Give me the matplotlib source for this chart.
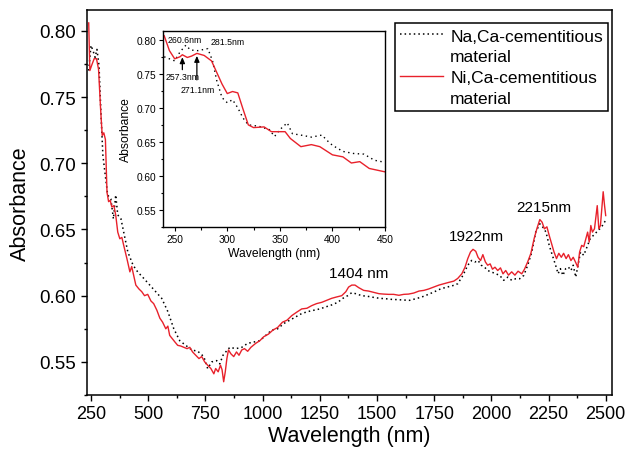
import matplotlib
matplotlib.use("Agg")
import matplotlib.pyplot as plt
from matplotlib.lines import Line2D
from matplotlib.ticker import MultipleLocator, FormatStrFormatter

plt.rcParams['font.family'] = ['Liberation Sans', 'DejaVu Sans']

# ---------------- main data ----------------
ni_wl = [240, 245, 253, 264, 274, 283, 292, 299, 306, 313, 320, 327, 334, 341, 350, 358, 367, 376, 385, 393,
         407, 420, 428, 437, 446, 460, 472, 484, 498, 512, 524, 538, 551, 563, 577, 586, 594, 603, 617, 629,
         642, 656, 670, 682, 694, 708, 722, 734, 747, 760, 774, 787, 795, 806, 816, 823, 830, 837, 844, 851,
         862, 874, 886, 897, 909, 921, 935, 949, 970, 988, 1005, 1026, 1045, 1066, 1087, 1107, 1128, 1149, 1171, 1194,
         1215, 1236, 1259, 1281, 1302, 1323, 1346, 1364, 1376, 1390, 1404, 1421, 1442, 1463, 1486, 1509, 1530, 1551, 1573, 1596,
         1617, 1638, 1661, 1684, 1705, 1725, 1748, 1771, 1792, 1813, 1836, 1853, 1871, 1885, 1897, 1909, 1920, 1932, 1942, 1953,
         1963, 1974, 1984, 1995, 2005, 2016, 2028, 2040, 2051, 2063, 2075, 2089, 2103, 2117, 2133, 2145, 2159, 2173, 2187, 2199,
         2212, 2222, 2232, 2243, 2253, 2264, 2274, 2285, 2295, 2306, 2316, 2327, 2337, 2348, 2358, 2369, 2378, 2386, 2395, 2404,
         2413, 2421, 2428, 2435, 2442, 2451, 2456, 2463, 2470, 2477, 2484, 2489, 2495, 2500]
ni_abs = [0.806, 0.770, 0.774, 0.779, 0.779, 0.771, 0.741, 0.721, 0.723, 0.718, 0.678, 0.671, 0.672, 0.667, 0.668, 0.661, 0.648, 0.643, 0.644, 0.638,
          0.628, 0.618, 0.622, 0.615, 0.608, 0.605, 0.603, 0.600, 0.601, 0.596, 0.594, 0.589, 0.583, 0.580, 0.575, 0.577, 0.570, 0.568, 0.565, 0.5625,
          0.562, 0.561, 0.560, 0.561, 0.5575, 0.555, 0.5525, 0.554, 0.550, 0.5475, 0.545, 0.541, 0.545, 0.5425, 0.5475, 0.544, 0.535, 0.5425, 0.5525, 0.559,
          0.556, 0.554, 0.5575, 0.555, 0.559, 0.560, 0.558, 0.561, 0.564, 0.566, 0.569, 0.571, 0.574, 0.576, 0.580, 0.5815, 0.585, 0.5875, 0.590, 0.5905,
          0.5925, 0.594, 0.595, 0.5965, 0.598, 0.599, 0.600, 0.603, 0.6065, 0.608, 0.608, 0.606, 0.604, 0.6035, 0.6025, 0.6015, 0.6012, 0.601, 0.601, 0.6003,
          0.601, 0.6012, 0.602, 0.6035, 0.604, 0.605, 0.6065, 0.608, 0.609, 0.610, 0.611, 0.613, 0.6165, 0.6215, 0.628, 0.633, 0.635, 0.6335, 0.629, 0.6265,
          0.631, 0.6255, 0.623, 0.624, 0.620, 0.6215, 0.619, 0.621, 0.6165, 0.619, 0.6155, 0.618, 0.6155, 0.6185, 0.6165, 0.620, 0.6255, 0.632, 0.643, 0.6505,
          0.6575, 0.6555, 0.6505, 0.652, 0.6455, 0.639, 0.633, 0.628, 0.632, 0.629, 0.632, 0.628, 0.631, 0.6265, 0.629, 0.625, 0.6215, 0.633, 0.638, 0.637,
          0.643, 0.648, 0.6405, 0.653, 0.648, 0.6505, 0.658, 0.668, 0.6505, 0.653, 0.668, 0.6785, 0.668, 0.6605]

na_wl = [240, 250, 259, 268, 276, 285, 294, 302, 311, 323, 337, 348, 358, 367, 381, 393, 411, 434, 454, 481,
         507, 533, 559, 586, 612, 638, 664, 691, 717, 743, 760, 778, 799, 813, 827, 839, 857, 883, 909, 935,
         962, 988, 1014, 1040, 1066, 1093, 1119, 1145, 1171, 1198, 1224, 1250, 1276, 1302, 1329, 1351, 1372, 1390, 1407, 1434,
         1460, 1486, 1512, 1538, 1565, 1591, 1617, 1643, 1670, 1696, 1722, 1748, 1774, 1801, 1827, 1853, 1876, 1897, 1914, 1928,
         1942, 1956, 1970, 1984, 2002, 2019, 2037, 2054, 2072, 2089, 2107, 2124, 2142, 2159, 2177, 2194, 2212, 2225, 2239, 2253,
         2267, 2281, 2292, 2302, 2313, 2325, 2337, 2348, 2358, 2369, 2379, 2390, 2404, 2418, 2432, 2446, 2460, 2474, 2486, 2500]
na_abs = [0.770, 0.789, 0.785, 0.780, 0.786, 0.774, 0.736, 0.706, 0.693, 0.676, 0.673, 0.658, 0.676, 0.661, 0.658, 0.648, 0.633, 0.623, 0.618, 0.613,
          0.608, 0.603, 0.598, 0.588, 0.575, 0.566, 0.5625, 0.559, 0.558, 0.554, 0.545, 0.550, 0.551, 0.5485, 0.555, 0.5575, 0.561, 0.560, 0.561, 0.564,
          0.565, 0.566, 0.570, 0.574, 0.575, 0.579, 0.5815, 0.584, 0.5865, 0.588, 0.589, 0.590, 0.5915, 0.593, 0.595, 0.598, 0.600, 0.6023, 0.6015, 0.600,
          0.5995, 0.5987, 0.598, 0.5977, 0.5972, 0.597, 0.5967, 0.5965, 0.5977, 0.599, 0.6008, 0.6027, 0.6048, 0.6063, 0.6073, 0.609, 0.6153, 0.623, 0.6266, 0.6254,
          0.6266, 0.623, 0.6216, 0.619, 0.6178, 0.6166, 0.6153, 0.6116, 0.614, 0.6116, 0.6128, 0.6128, 0.6153, 0.623, 0.6329, 0.648, 0.6543, 0.6518, 0.648, 0.638,
          0.6304, 0.623, 0.6166, 0.6204, 0.6153, 0.6204, 0.6216, 0.619, 0.623, 0.614, 0.623, 0.633, 0.6305, 0.6367, 0.643, 0.6455, 0.648, 0.6505, 0.653, 0.657]

# ---------------- inset data ----------------
ins_ni_wl = [240, 245, 250, 255, 257.3, 262, 266, 271.1, 278, 285, 290, 295, 300, 305, 310, 315, 320, 325, 335, 342,
             350, 355, 360, 370, 380, 388, 400, 410, 418, 426, 435, 450]
ins_ni_abs = [0.806, 0.784, 0.772, 0.775, 0.778, 0.774, 0.776, 0.780, 0.777, 0.769, 0.752, 0.735, 0.721, 0.724, 0.722, 0.698, 0.675, 0.671, 0.672, 0.665,
              0.665, 0.665, 0.655, 0.643, 0.646, 0.643, 0.631, 0.628, 0.619, 0.621, 0.611, 0.606]
ins_na_wl = [240, 250, 255, 260.6, 265, 272, 281.5, 286, 290, 295, 300, 305, 310, 315, 320, 330, 340, 345, 350, 357,
             362, 370, 380, 390, 395, 400, 410, 420, 430, 440, 450]
ins_na_abs = [0.775, 0.769, 0.782, 0.792, 0.785, 0.784, 0.787, 0.769, 0.740, 0.715, 0.7075, 0.712, 0.700, 0.685, 0.675, 0.673, 0.668, 0.658, 0.668, 0.678,
              0.662, 0.660, 0.657, 0.660, 0.652, 0.645, 0.636, 0.633, 0.632, 0.623, 0.620]

series_labels = ["Na,Ca-cementitious", "material", "Ni,Ca-cementitious", "material"]
peak_labels = ["1404 nm", "1922nm", "2215nm"]
peak_pos = [(1421, 0.617), (1934, 0.645), (2231, 0.667)]
inset_labels = ["260.6nm", "281.5nm", "257.3nm", "271.1nm"]

RED = '#e8212b'

fig = plt.figure(figsize=(6.25, 4.56), dpi=100)
ax = fig.add_axes([0.139, 0.1316, 0.840, 0.845])
ax.plot(na_wl, na_abs, color='black', linestyle=(0, (1, 2)), linewidth=1.1)
ax.plot(ni_wl, ni_abs, color=RED, linewidth=1.0)
ax.set_xlim(232, 2527)
ax.set_ylim(0.525, 0.816)
ax.xaxis.set_major_locator(MultipleLocator(250))
ax.xaxis.set_minor_locator(MultipleLocator(125))
ax.yaxis.set_major_locator(MultipleLocator(0.05))
ax.yaxis.set_minor_locator(MultipleLocator(0.025))
ax.yaxis.set_major_formatter(FormatStrFormatter('%.2f'))
ax.tick_params(which='both', direction='out', width=1.0)
ax.tick_params(axis='y', labelsize=13.5)
ax.tick_params(axis='x', labelsize=13)
ax.tick_params(which='major', length=4)
ax.tick_params(which='minor', length=2.5)
for s in ax.spines.values():
    s.set_linewidth(1.1)
ax.set_xlabel("Wavelength (nm)", fontsize=15.5, labelpad=2)
ax.set_ylabel("Absorbance", fontsize=15.5, labelpad=6)

for lab, (px, py) in zip(peak_labels, peak_pos):
    ax.text(px, py, lab, fontsize=11, ha='center', va='center')

handles = [Line2D([], [], color='black', linestyle=(0, (1, 2)), linewidth=1.1),
           Line2D([], [], color='none'),
           Line2D([], [], color=RED, linewidth=1.0),
           Line2D([], [], color='none')]
leg = ax.legend(handles, series_labels, loc='upper right', bbox_to_anchor=(0.973, 0.947),
                bbox_transform=fig.transFigure, fontsize=12.5, frameon=True, fancybox=False,
                edgecolor='black', framealpha=1, handlelength=2.5, handletextpad=0.4,
                labelspacing=0.33, borderpad=0.3, borderaxespad=0)
leg.get_frame().set_linewidth(1.1)

# ---------------- inset ----------------
ia = fig.add_axes([0.261, 0.5, 0.355, 0.43])
ia.plot(ins_na_wl, ins_na_abs, color='black', linestyle=(0, (1, 2.5)), linewidth=1.0)
ia.plot(ins_ni_wl, ins_ni_abs, color=RED, linewidth=1.0)
ia.set_xlim(239, 450)
ia.set_ylim(0.525, 0.813)
ia.xaxis.set_major_locator(MultipleLocator(50))
ia.xaxis.set_minor_locator(MultipleLocator(25))
ia.yaxis.set_major_locator(MultipleLocator(0.05))
ia.yaxis.set_minor_locator(MultipleLocator(0.025))
ia.yaxis.set_major_formatter(FormatStrFormatter('%.2f'))
ia.tick_params(which='both', direction='out', labelsize=7.3, width=0.8, pad=2)
ia.tick_params(which='major', length=3)
ia.tick_params(which='minor', length=1.8)
for s in ia.spines.values():
    s.set_linewidth(1.0)
ia.set_xlabel("Wavelength (nm)", fontsize=8.7, labelpad=2)
ia.set_ylabel("Absorbance", fontsize=8.7, labelpad=3)

ia.text(243.6, 0.800, inset_labels[0], fontsize=6.3, ha='left', va='center')
ia.text(284, 0.797, inset_labels[1], fontsize=6.3, ha='left', va='center')
ia.text(241, 0.7455, inset_labels[2], fontsize=6.3, ha='left', va='center')
ia.text(256, 0.727, inset_labels[3], fontsize=6.3, ha='left', va='center')
arrow_kw = dict(arrowstyle='-|>,head_length=0.35,head_width=0.15', color='black', lw=0.9)
ia.annotate('', xy=(257.3, 0.7785), xytext=(257.3, 0.752), arrowprops=arrow_kw)
ia.annotate('', xy=(271.1, 0.7805), xytext=(271.1, 0.737), arrowprops=arrow_kw)

fig.savefig("out.png", dpi=100)
